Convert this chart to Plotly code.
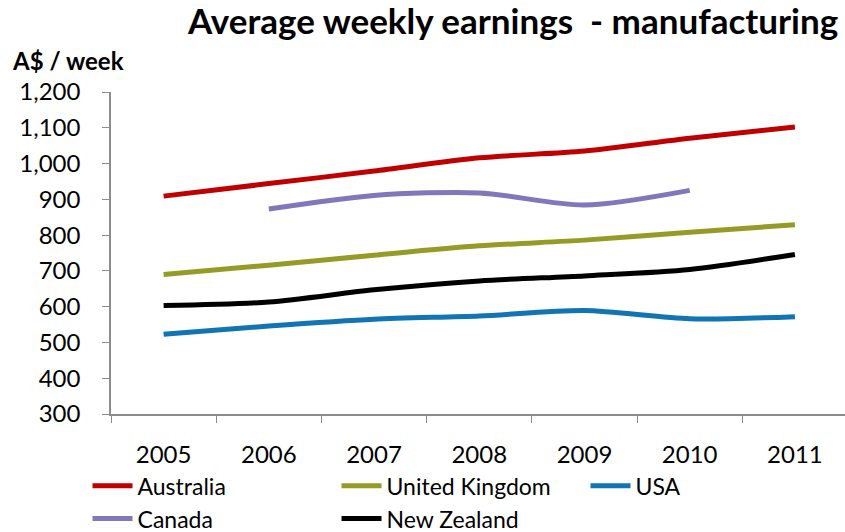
import plotly.graph_objects as go

years = ["2005", "2006", "2007", "2008", "2009", "2010", "2011"]
australia = [909, 944, 979, 1016, 1035, 1071, 1102]
united_kingdom = [690, 716, 744, 770, 786, 808, 829]
usa = [523, 546, 565, 574, 589, 566, 572]
canada = [None, 873, 911, 918, 884, 925, None]
new_zealand = [603, 613, 647, 672, 686, 704, 746]

series = [
    ("Australia", australia, "#C00000"),
    ("United Kingdom", united_kingdom, "#959C25"),
    ("USA", usa, "#1174B3"),
    ("Canada", canada, "#8078BA"),
    ("New Zealand", new_zealand, "#000000"),
]

FONT = "Lato, 'Open Sans', sans-serif"

fig = go.Figure()
for name, vals, color in series:
    fig.add_trace(go.Scatter(
        x=years, y=vals, name=name, mode="lines",
        line=dict(color=color, width=5, shape="spline", smoothing=0.8),
        connectgaps=False,
    ))

fig.update_layout(
    width=845, height=532,
    margin=dict(l=111, r=0, t=92, b=118, autoexpand=False),
    paper_bgcolor="white", plot_bgcolor="white",
    font=dict(family=FONT, color="black", size=24),
    title=dict(text="<b>Average weekly earnings  - manufacturing</b>",
               x=0.992, xanchor="right", y=0.983, yanchor="top",
               font=dict(size=35, family=FONT, color="black")),
    showlegend=True,
    legend=dict(orientation="h", x=-0.032, xanchor="left",
                y=-0.156, yanchor="top",
                entrywidth=194, font=dict(size=23, family=FONT), tracegroupgap=0,
                itemwidth=40),
    annotations=[dict(text="<b>A$ / week</b>", xref="paper", yref="paper",
                      x=-0.137, y=1.048, xanchor="left", yanchor="bottom",
                      showarrow=False, font=dict(size=24, family=FONT))],
)
fig.update_xaxes(type="category", range=[-0.5, 6.476], showline=True, linecolor="#8C8C8C",
                 linewidth=1.5, ticks="outside", tickson="boundaries", ticklen=7,
                 tickcolor="#8C8C8C", showgrid=False, zeroline=False,
                 tickfont=dict(size=24), ticklabelstandoff=18)
fig.update_yaxes(range=[300, 1200], dtick=100, tickformat=",", showline=True,
                 linecolor="#8C8C8C", linewidth=1.5, ticks="outside", ticklen=7,
                 tickcolor="#8C8C8C", showgrid=False, zeroline=False,
                 tickfont=dict(size=24), ticklabelstandoff=17)

fig.write_html("out.html")
